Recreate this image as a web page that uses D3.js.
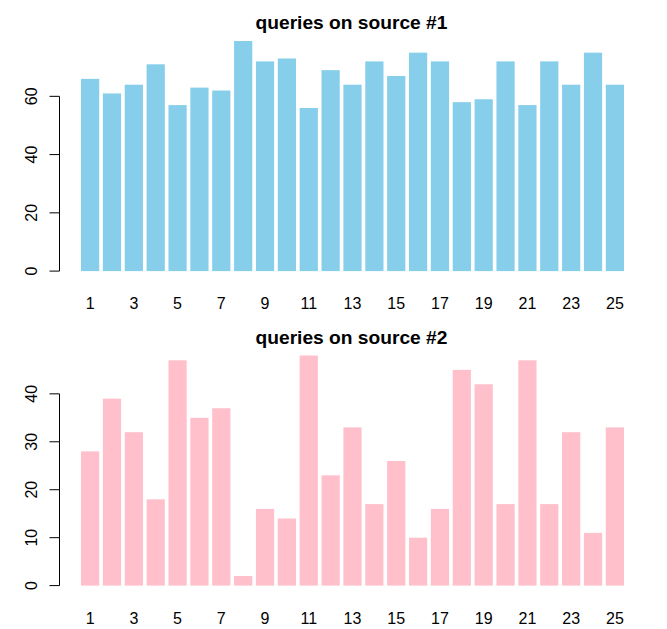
<!DOCTYPE html>
<html>
<head>
<meta charset="utf-8">
<script src="https://cdn.jsdelivr.net/npm/d3@7"></script>
<style>
  body { margin: 0; background: #fff; }
  text { font-family: "Liberation Sans", Arial, sans-serif; }
</style>
</head>
<body>
<svg id="chart" width="667" height="629"></svg>
<script>
const days = d3.range(1, 26)
const source1 = [66, 61, 64, 71, 57, 63, 62, 79, 72, 73, 56, 69, 64, 72, 67, 75, 72, 58, 59, 72, 57, 72, 64, 75, 64]
const source2 = [28, 39, 32, 18, 47, 35, 37, 2, 16, 14, 48, 23, 33, 17, 26, 10, 16, 45, 42, 17, 47, 17, 32, 11, 33]
const ticks1 = [0, 20, 40, 60]
const ticks2 = [0, 10, 20, 30, 40]
const xLabels = days.filter(d => d % 2 === 1)

const svg = d3.select("#chart")
const panelH = 314.5
const plot = { left: 81, right: 624, top: 31.8, bottom: 280.3 }

function panel(offset, values, ticks, title, color) {
  const g = svg.append("g").attr("transform", "translate(0," + offset + ")")
  const max = d3.max(values)

  const x = d3.scaleBand()
    .domain(days)
    .range([plot.left, plot.right])
    .paddingInner(0.2 / 1.2)
    .paddingOuter(0)

  const y = d3.scaleLinear()
    .domain([-0.04 * max, 1.04 * max])
    .range([plot.bottom, plot.top])

  g.selectAll(".bar")
    .data(values)
    .enter().append("rect")
      .attr("class", "bar")
      .attr("x", (d, i) => x(days[i]))
      .attr("y", d => y(d))
      .attr("width", x.bandwidth())
      .attr("height", d => y(0) - y(d))
      .attr("fill", color)

  // y axis, R style
  const axisX = 59.5
  g.append("line")
    .attr("x1", axisX).attr("x2", axisX)
    .attr("y1", y(ticks[0])).attr("y2", y(ticks[ticks.length - 1]))
    .attr("stroke", "#000")
  g.selectAll(".ytick")
    .data(ticks)
    .enter().append("line")
      .attr("x1", axisX - 10).attr("x2", axisX)
      .attr("y1", d => y(d)).attr("y2", d => y(d))
      .attr("stroke", "#000")
  g.selectAll(".ylab")
    .data(ticks)
    .enter().append("text")
      .attr("transform", d => "translate(37," + y(d) + ") rotate(-90)")
      .attr("text-anchor", "middle")
      .attr("font-size", 16)
      .text(d => d)

  g.selectAll(".xlab")
    .data(xLabels)
    .enter().append("text")
      .attr("x", d => x(d) + x.bandwidth() / 2)
      .attr("y", 309)
      .attr("text-anchor", "middle")
      .attr("font-size", 16)
      .text(d => d)

  g.append("text")
    .attr("x", 351.5)
    .attr("y", 29)
    .attr("text-anchor", "middle")
    .attr("font-size", 19.2)
    .attr("font-weight", "bold")
    .text(title)
}

panel(0, source1, ticks1, "queries on source #1", "#87CEEB")
panel(panelH, source2, ticks2, "queries on source #2", "#FFC0CB")
</script>
</body>
</html>
